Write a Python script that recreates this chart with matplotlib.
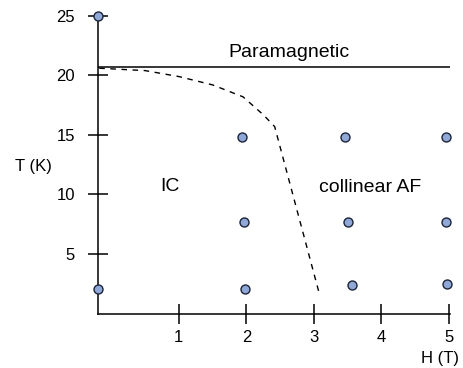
import matplotlib
matplotlib.use("Agg")
import matplotlib.pyplot as plt

plt.rcParams['font.family'] = ['Liberation Sans', 'DejaVu Sans']

# measured points (H in T, T in K)
pts_H = [-0.2, -0.2, 1.93, 1.96, 1.98, 3.46, 3.5, 3.56, 4.96, 4.96, 4.97]
pts_T = [25.0, 2.1, 14.8, 7.7, 2.1, 14.8, 7.7, 2.4, 14.8, 7.7, 2.5]

# phase boundaries
para_H = [-0.2, 5.02]
para_T = [20.7, 20.7]
bound_H = [-0.18, 0.5, 1.0, 1.5, 1.95, 2.25, 2.42, 3.08]
bound_T = [20.6, 20.4, 19.9, 19.2, 18.2, 16.7, 15.7, 1.7]

xticks = [1, 2, 3, 4, 5]
yticks = [5, 10, 15, 20, 25]

fig = plt.figure(figsize=(4.64, 3.68), dpi=100)
ax = fig.add_axes([0.211, 0.148, 0.759, 0.809])

ax.plot(para_H, para_T, color='black', lw=1.1)
ax.plot(bound_H, bound_T, color='black', lw=1.0, linestyle=(0, (4, 4)))
ax.scatter(pts_H, pts_T, s=42, color='#8fa8d8', edgecolors='#1c2438',
           linewidths=1.0, zorder=5, clip_on=False)

ax.text(2.63, 21.9, "Paramagnetic", fontsize=14, ha='center', va='center')
ax.text(0.87, 10.7, "IC", fontsize=14, ha='center', va='center')
ax.text(3.84, 10.6, "collinear AF", fontsize=14, ha='center', va='center')

ax.set_xlim(-0.2, 5.02)
ax.set_ylim(0, 25)
ax.set_xticks(xticks)
ax.set_yticks(yticks)
ax.spines['top'].set_visible(False)
ax.spines['right'].set_visible(False)
ax.spines['left'].set_linewidth(1.1)
ax.spines['bottom'].set_linewidth(1.1)
ax.tick_params(axis='both', direction='inout', length=15, width=1.1,
               labelsize=12, colors='black')
ax.tick_params(axis='y', pad=9)
ax.tick_params(axis='x', pad=4.5)

fig.text(33 / 464, 1 - 166 / 368, "T (K)", fontsize=12, ha='center', va='center')
fig.text(440 / 464, 1 - 359 / 368, "H (T)", fontsize=12, ha='center', va='center')

fig.savefig("out.png", dpi=100)
